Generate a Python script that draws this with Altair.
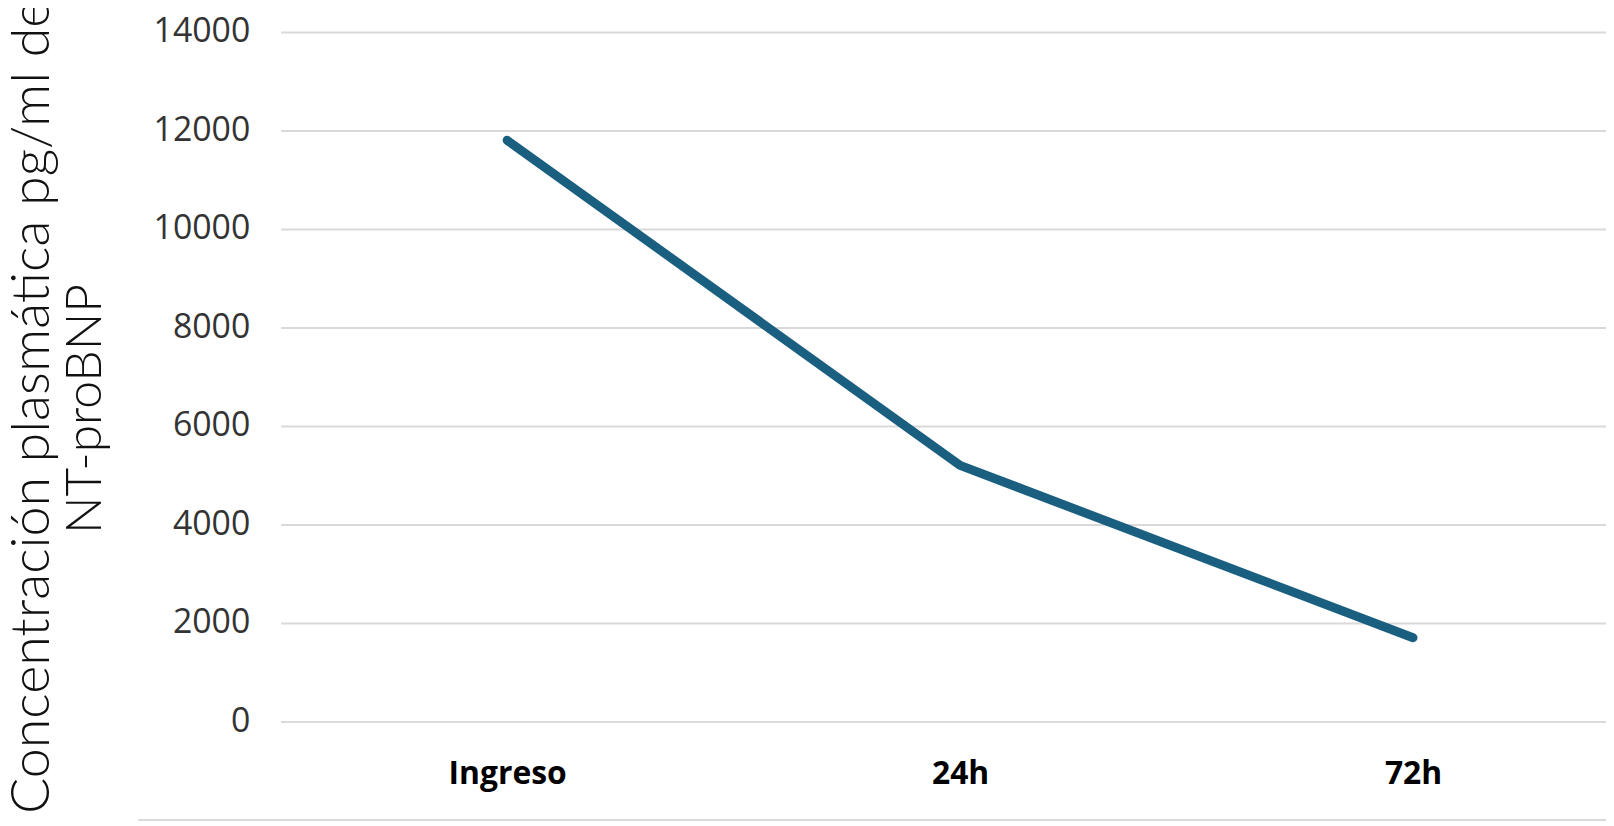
import altair as alt
import pandas as pd

categories = ["Ingreso", "24h", "72h"]
values = [11800, 5200, 1700]
y_ticks = [0, 2000, 4000, 6000, 8000, 10000, 12000, 14000]
title_line1 = "Concentración plasmática pg/ml de"
title_line2 = "NT-proBNP"

df = pd.DataFrame({"momento": categories, "valor": values})
one = pd.DataFrame({"k": [0]})

W, H = 1332, 693

line = alt.Chart(df).mark_line(
    color="#1b5f80", strokeWidth=9, strokeCap="round", strokeJoin="round"
).encode(
    x=alt.X("momento:N", sort=categories,
            scale=alt.Scale(type="point", padding=0.463, align=0.54),
            axis=alt.Axis(title=None, labelAngle=0, domain=False, ticks=False, tickSize=0,
                          labelPadding=62, labelBaseline="alphabetic",
                          labelFont="Open Sans", labelFontWeight="bold",
                          labelFontSize=32, labelColor="#000000", grid=False)),
    y=alt.Y("valor:Q",
            scale=alt.Scale(domain=[0, 14000], nice=False, zero=True),
            axis=alt.Axis(title=None, values=y_ticks, domain=False, ticks=False, tickSize=0,
                          labelPadding=31, labelFont="Open Sans", labelFontSize=34,
                          labelColor="#333333", grid=True, gridColor="#d9d9d9",
                          gridWidth=2, format="d")),
)

bottom_rule = alt.Chart(one).mark_rule(color="#d9d9d9", strokeWidth=2).encode(
    x=alt.value(-143), x2=alt.value(W), y=alt.value(792)
)

t1 = alt.Chart(one).mark_text(
    text=title_line1, angle=270, align="left", baseline="alphabetic",
    font="Lato", fontWeight=300, fontSize=54, color="#111111"
).encode(x=alt.value(-233), y=alt.value(786))

t2 = alt.Chart(one).mark_text(
    text=title_line2, angle=270, align="center", baseline="alphabetic",
    font="Lato", fontWeight=300, fontSize=50, color="#111111"
).encode(x=alt.value(-181), y=alt.value(379))

chart = alt.layer(bottom_rule, line, t1, t2).properties(
    width=W, height=H,
    autosize=alt.AutoSizeParams(type="none"),
    padding={"left": 274, "top": 22, "right": 0, "bottom": 100},
    background="white",
).configure_view(stroke=None)

chart.save("out.html", embed_options={"renderer": "svg", "actions": False})
